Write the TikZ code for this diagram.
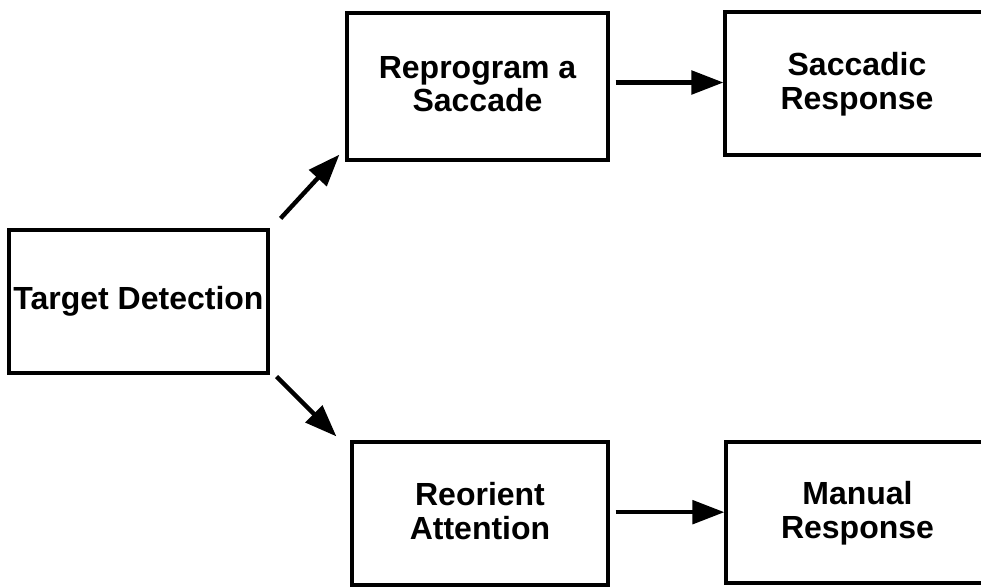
\documentclass[tikz,border=0pt]{standalone}
\usepackage{fontspec}
\setmainfont{Liberation Sans}
\usetikzlibrary{positioning, arrows.meta}

\tikzset{
    box/.style={draw, line width=2.4pt, align=center, inner sep=0pt,
        font=\bfseries\fontsize{24}{25}\selectfont},
    twoline/.style={text depth=4pt},
    flow/.style={-{Triangle[length=24pt, width=17.5pt]}, line width=3.3pt},
}

\begin{document}
\begin{tikzpicture}[x=0.75pt, y=-0.75pt]
        % 画布范围
        \useasboundingbox (0, 0) rectangle (981, 587);
        \clip (0, 0) rectangle (981, 587);

        % 起点
        \node[box, minimum width=194.25pt, minimum height=107.25pt] (detect) at (138.5, 301.5) {Target Detection};

        % 上方支路
        \node[box, twoline, minimum width=195.75pt, minimum height=110.25pt] (reprog) at (477.5, 86.5) {Reprogram a\\Saccade};
        \node[box, twoline, minimum width=198pt, minimum height=107.25pt] (saccresp) at (857, 83.5) {Saccadic\\Response};

        % 下方支路
        \node[box, twoline, minimum width=192pt, minimum height=107.25pt] (reorient) at (480, 513.5) {Reorient\\Attention};
        \node[box, twoline, minimum width=197.25pt, minimum height=105.75pt] (manual) at (857.5, 512.5) {Manual\\Response};

        % 斜向箭头
        \draw[flow] ([xshift=8.25pt, yshift=7.5pt]detect.north east) -- ([xshift=-4.5pt, yshift=5.25pt]reprog.south west);
        \draw[flow] ([xshift=5.25pt, yshift=-1.5pt]detect.south east) -- ([xshift=-10.5pt, yshift=3pt]reorient.north west);

        % 水平箭头
        \draw[flow, shorten <=4.5pt] ([yshift=3pt]reprog.east) -- ([yshift=3pt]reprog.east -| saccresp.west);
        \draw[flow, shorten <=4.5pt] ([yshift=1pt]reorient.east) -- ([yshift=1pt]reorient.east -| manual.west);
\end{tikzpicture}
\end{document}
